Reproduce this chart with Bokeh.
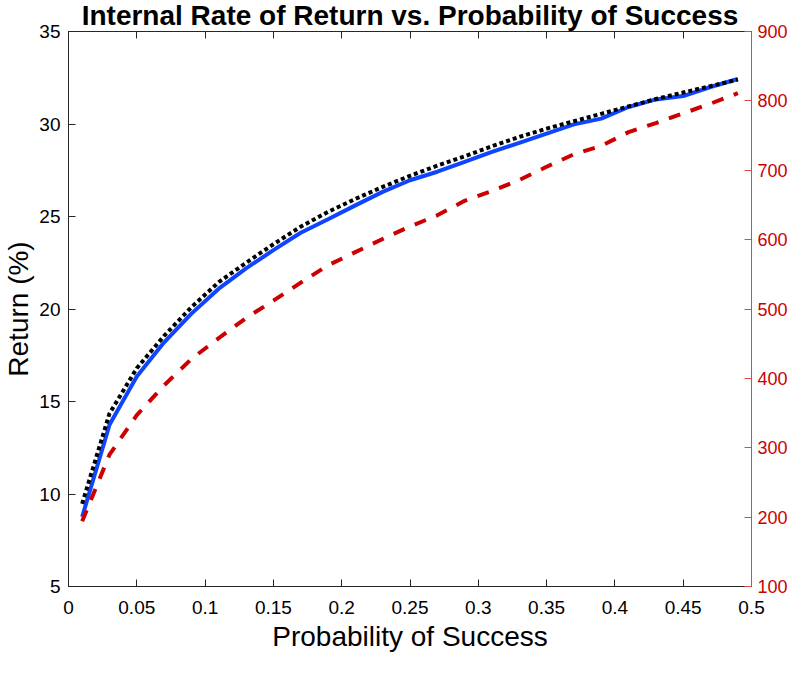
from bokeh.plotting import figure
from bokeh.models import Range1d, LinearAxis, FixedTicker
from bokeh.embed import file_html
from bokeh.resources import INLINE

# ---- data ----
prob = [0.01, 0.03, 0.05, 0.07, 0.09, 0.11, 0.13, 0.15, 0.17, 0.19, 0.21, 0.23, 0.25,
        0.27, 0.29, 0.31, 0.33, 0.35, 0.37, 0.39, 0.41, 0.43, 0.45, 0.47, 0.49]
irr_blue = [8.76, 13.74, 16.35, 18.2, 19.75, 21.1, 22.2, 23.18, 24.12, 24.85, 25.6, 26.33, 26.96,
            27.42, 27.95, 28.49, 28.98, 29.48, 29.98, 30.29, 30.92, 31.33, 31.51, 32.0, 32.43]
irr_black = [9.47, 14.35, 16.8, 18.55, 20.1, 21.45, 22.5, 23.5, 24.45, 25.25, 25.95, 26.6, 27.2,
             27.75, 28.25, 28.8, 29.3, 29.75, 30.15, 30.55, 30.95, 31.35, 31.7, 32.05, 32.4]
right_red = [194, 290, 347, 390, 428, 458, 487, 512, 538, 563, 582, 601, 619,
             635, 656, 670, 686, 705, 723, 735, 755, 768, 782, 796, 811]

x_ticks = [0, 0.05, 0.1, 0.15, 0.2, 0.25, 0.3, 0.35, 0.4, 0.45, 0.5]
x_tick_labels = ["0", "0.05", "0.1", "0.15", "0.2", "0.25", "0.3", "0.35", "0.4", "0.45", "0.5"]
left_ticks = [5, 10, 15, 20, 25, 30, 35]
right_ticks = [100, 200, 300, 400, 500, 600, 700, 800, 900]

title_text = "Internal Rate of Return vs. Probability of Success"
x_label = "Probability of Success"
y_label = "Return (%)"

FONT = "Liberation Sans"
DARK = "#262626"
BLUE = "#0F45FF"
RED = "#CC0000"
RED_AXIS = "#D84A4A"

p = figure(width=790, height=661, output_backend="svg", toolbar_location=None,
           x_range=Range1d(0, 0.5), y_range=Range1d(5, 35),
           min_border_left=61, min_border_right=38, min_border_top=34, min_border_bottom=71,
           styles={"margin-top": "-4px"})
p.extra_y_ranges = {"right": Range1d(100, 900)}
p.grid.visible = False
p.background_fill_color = "white"
p.border_fill_color = "white"
p.outline_line_color = DARK
p.outline_line_width = 1

# title
p.title.text = title_text
p.title.align = "center"
p.title.text_font = FONT
p.title.text_font_size = "28px"
p.title.text_font_style = "bold"
p.title.text_color = "black"
p.title.standoff = 2
p.title.offset = 0

# bottom axis
xa = p.xaxis[0]
xa.ticker = FixedTicker(ticks=x_ticks)
xa.major_label_overrides = dict(zip(x_ticks, x_tick_labels))
xa.minor_tick_line_color = None
xa.major_tick_in = 7
xa.major_tick_out = 0
xa.major_tick_line_color = DARK
xa.axis_line_color = DARK
xa.major_label_text_font = FONT
xa.major_label_text_font_size = "19px"
xa.major_label_text_color = "black"
xa.major_label_standoff = 14
xa.axis_label = x_label
xa.axis_label_text_font = FONT
xa.axis_label_text_font_size = "28px"
xa.axis_label_text_font_style = "normal"
xa.axis_label_text_color = "black"
xa.axis_label_standoff = 4

# left axis
ya = p.yaxis[0]
ya.ticker = FixedTicker(ticks=left_ticks)
ya.minor_tick_line_color = None
ya.major_tick_in = 7
ya.major_tick_out = 0
ya.major_tick_line_color = DARK
ya.axis_line_color = DARK
ya.major_label_text_font = FONT
ya.major_label_text_font_size = "19px"
ya.major_label_text_color = "black"
ya.major_label_standoff = 8
ya.axis_label = y_label
ya.axis_label_text_font = FONT
ya.axis_label_text_font_size = "28px"
ya.axis_label_text_font_style = "normal"
ya.axis_label_text_color = "black"
ya.axis_label_standoff = 2

# right axis (red)
ra = LinearAxis(y_range_name="right", ticker=FixedTicker(ticks=right_ticks))
ra.minor_tick_line_color = None
ra.major_tick_in = 7
ra.major_tick_out = 0
ra.major_tick_line_color = RED_AXIS
ra.axis_line_color = RED_AXIS
ra.major_label_text_font = FONT
ra.major_label_text_font_size = "18px"
ra.major_label_text_color = RED
ra.major_label_standoff = 6
p.add_layout(ra, "right")

# top axis: ticks only
ta = LinearAxis(ticker=FixedTicker(ticks=x_ticks))
ta.minor_tick_line_color = None
ta.major_tick_in = 7
ta.major_tick_out = 0
ta.major_tick_line_color = DARK
ta.axis_line_color = DARK
ta.major_label_text_font_size = "0px"
ta.major_label_standoff = 0
ta.major_label_text_alpha = 0
p.add_layout(ta, "above")

# lines
p.line(prob, irr_blue, line_color=BLUE, line_width=4)
p.line(prob, irr_black, line_color="black", line_width=4, line_dash="4 3")
p.line(prob, right_red, y_range_name="right", line_color=RED, line_width=4, line_dash="12 11")

open("out.html", "w").write(file_html(p, INLINE))
